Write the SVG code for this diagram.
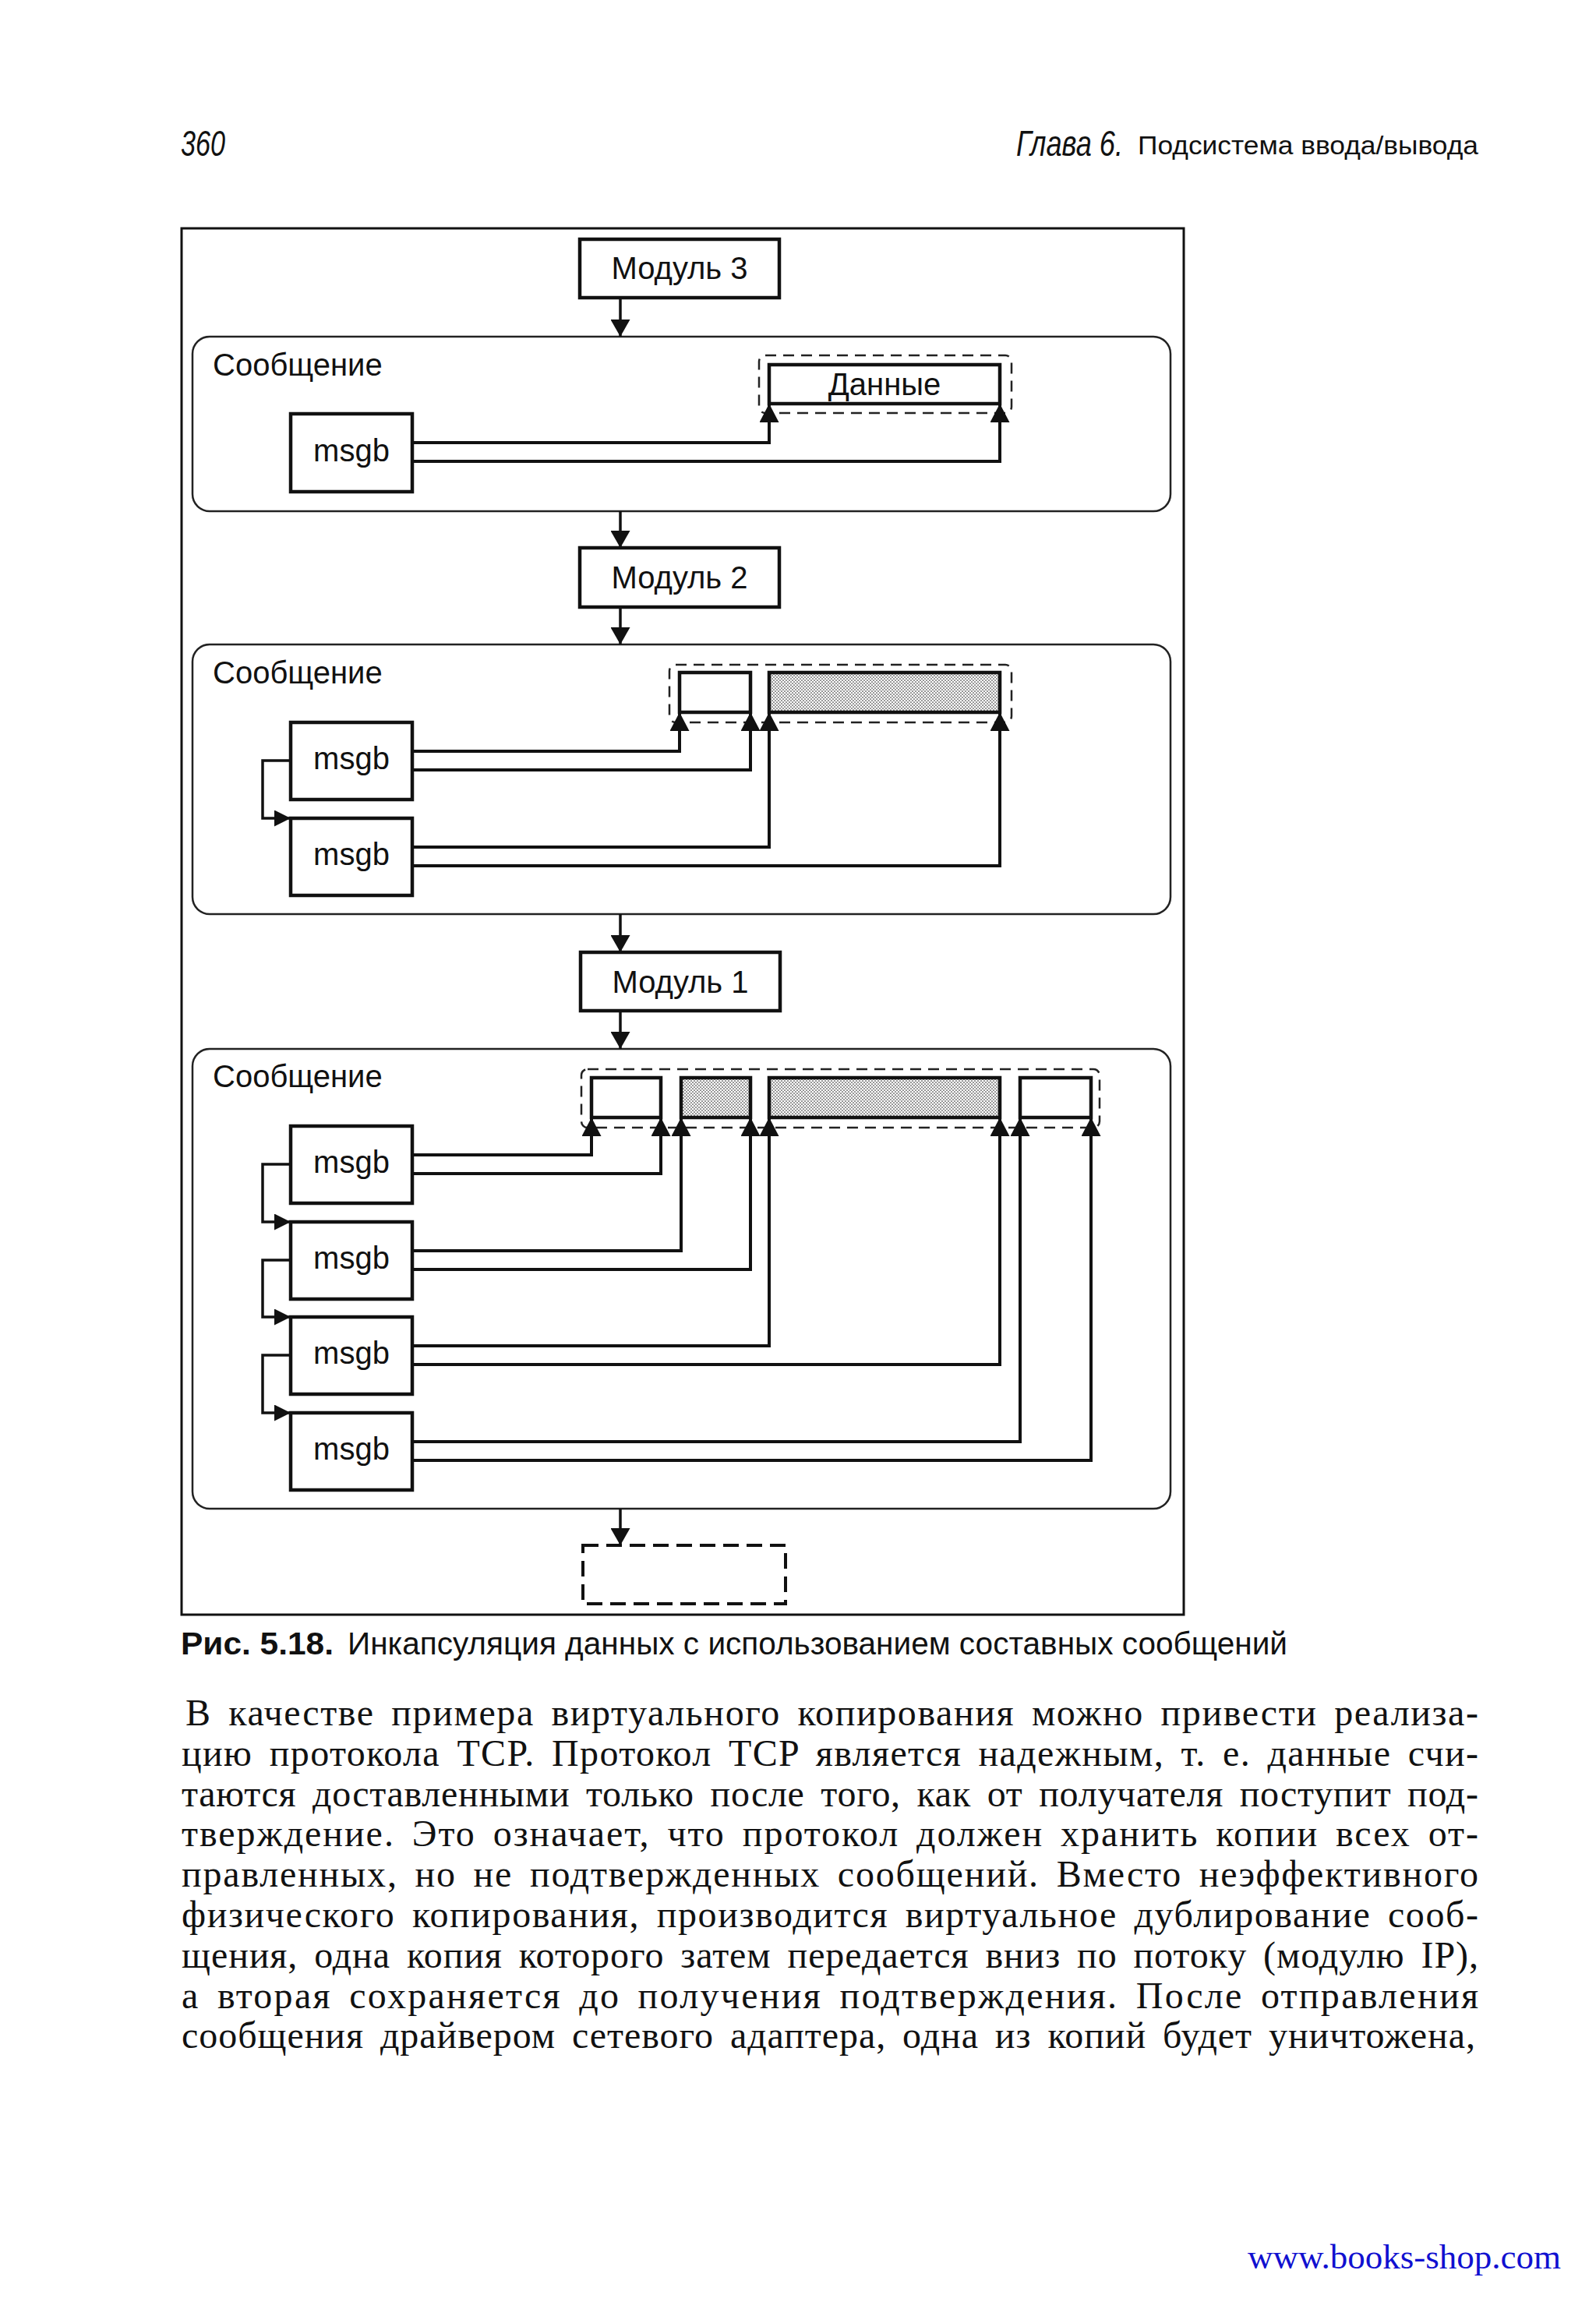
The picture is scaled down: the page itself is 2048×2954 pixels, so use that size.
<svg xmlns="http://www.w3.org/2000/svg" width="2048" height="2954" viewBox="0 0 2048 2954">
<style>
.lbl{font-family:"Liberation Sans",Arial,sans-serif;font-size:40px;fill:#111}
.mid{text-anchor:middle}
.hdr{font-family:"Liberation Sans",Arial,sans-serif;fill:#111}
.body{font-family:"Liberation Serif","Times New Roman",serif;font-size:48px;fill:#111;word-spacing:8px}
.box{fill:#fff;stroke:#111;stroke-width:4.5}
.msg{fill:none;stroke:#222;stroke-width:2.5}
.dash{fill:none;stroke:#222;stroke-width:2.5;stroke-dasharray:14 9}
.shade{fill:url(#dots);stroke:#111;stroke-width:4.5}
.cn{fill:none;stroke:#111;stroke-width:4;marker-end:url(#ah)}
.lk{fill:none;stroke:#111;stroke-width:3.5;marker-end:url(#ahs)}
.dn{fill:none;stroke:#111;stroke-width:3.5;marker-end:url(#ahd)}
</style>
<defs>
<pattern id="dots" width="4" height="4" patternUnits="userSpaceOnUse">
<rect width="4" height="4" fill="#fff"/>
<circle cx="1" cy="1" r="0.85" fill="#333"/>
<circle cx="3" cy="3" r="0.85" fill="#333"/>
</pattern>
<marker id="ah" markerUnits="userSpaceOnUse" markerWidth="24" markerHeight="25" viewBox="0 0 24 25" refX="24" refY="12.5" orient="auto">
<path d="M0,0 L24,12.5 L0,25 z" fill="#111"/>
</marker>
<marker id="ahs" markerUnits="userSpaceOnUse" markerWidth="21" markerHeight="21" viewBox="0 0 21 21" refX="21" refY="10.5" orient="auto">
<path d="M0,0 L21,10.5 L0,21 z" fill="#111"/>
</marker>
<marker id="ahd" markerUnits="userSpaceOnUse" markerWidth="22" markerHeight="25" viewBox="0 0 22 25" refX="22" refY="12.5" orient="auto">
<path d="M0,0 L22,12.5 L0,25 z" fill="#111"/>
</marker>
</defs>
<rect width="2048" height="2954" fill="#fff"/>

<g id="header">
<text class="hdr" x="232" y="200" font-size="46" font-style="italic" textLength="57" lengthAdjust="spacingAndGlyphs">360</text>
<text class="hdr" x="1304" y="200" font-size="46" font-style="italic" textLength="137" lengthAdjust="spacingAndGlyphs">Глава 6.</text>
<text class="hdr" x="1460" y="198" font-size="33" textLength="437" lengthAdjust="spacingAndGlyphs">Подсистема ввода/вывода</text>
</g>

<rect id="frame" x="233" y="293" width="1286" height="1779" fill="none" stroke="#111" stroke-width="3"/>

<g id="module3"><rect class="box" x="744" y="307" width="256" height="75"/><text class="lbl mid" x="872" y="358">Модуль 3</text></g>
<g id="module2"><rect class="box" x="744" y="703" width="256" height="76"/><text class="lbl mid" x="872" y="755">Модуль 2</text></g>
<g id="module1"><rect class="box" x="745" y="1222" width="256" height="75"/><text class="lbl mid" x="873" y="1274">Модуль 1</text></g>

<g id="message1">
<rect class="msg" x="247" y="432" width="1255" height="224" rx="22"/>
<text class="lbl" x="273" y="482">Сообщение</text>
<rect class="dash" x="974" y="456" width="324" height="74" rx="8"/>
<rect class="box" x="987" y="468" width="296" height="50"/>
<text class="lbl mid" x="1135" y="507">Данные</text>
</g>
<g id="msgb1-1"><rect class="box" x="373" y="531" width="156" height="100"/><text class="lbl mid" x="451" y="592">msgb</text></g>

<g id="message2">
<rect class="msg" x="247" y="827" width="1255" height="346" rx="22"/>
<text class="lbl" x="273" y="877">Сообщение</text>
<rect class="dash" x="859" y="853" width="439" height="74" rx="8"/>
<rect class="box" x="872" y="863" width="91" height="51"/>
<rect class="shade" x="987" y="863" width="296" height="51"/>
</g>
<g id="msgb2-1"><rect class="box" x="373" y="927" width="156" height="99"/><text class="lbl mid" x="451" y="987">msgb</text></g>
<g id="msgb2-2"><rect class="box" x="373" y="1050" width="156" height="99"/><text class="lbl mid" x="451" y="1110">msgb</text></g>

<g id="message3">
<rect class="msg" x="247" y="1346" width="1255" height="590" rx="22"/>
<text class="lbl" x="273" y="1395">Сообщение</text>
<rect class="dash" x="746" y="1372" width="665" height="75" rx="8"/>
<rect class="box" x="759" y="1383" width="89" height="51"/>
<rect class="shade" x="874" y="1383" width="89" height="51"/>
<rect class="shade" x="987" y="1383" width="296" height="51"/>
<rect class="box" x="1309" y="1383" width="91" height="51"/>
</g>
<g id="msgb3-1"><rect class="box" x="373" y="1445" width="156" height="99"/><text class="lbl mid" x="451" y="1505">msgb</text></g>
<g id="msgb3-2"><rect class="box" x="373" y="1568" width="156" height="99"/><text class="lbl mid" x="451" y="1628">msgb</text></g>
<g id="msgb3-3"><rect class="box" x="373" y="1690" width="156" height="99"/><text class="lbl mid" x="451" y="1750">msgb</text></g>
<g id="msgb3-4"><rect class="box" x="373" y="1813" width="156" height="99"/><text class="lbl mid" x="451" y="1873">msgb</text></g>

<g id="next"><rect x="748" y="1983" width="260" height="75" fill="none" stroke="#111" stroke-width="4" stroke-dasharray="20 10"/></g>

<g id="connectors">
<path class="dn" d="M796,382 V432"/>
<path class="dn" d="M796,656 V703"/>
<path class="dn" d="M796,779 V827"/>
<path class="dn" d="M796,1173 V1222"/>
<path class="dn" d="M796,1297 V1346"/>
<path class="dn" d="M796,1936 V1983"/>

<path class="cn" d="M529,568 H987 V518"/>
<path class="cn" d="M529,592 H1283 V518"/>

<path class="cn" d="M529,964 H872 V914"/>
<path class="cn" d="M529,988 H963 V914"/>
<path class="cn" d="M529,1087 H987 V914"/>
<path class="cn" d="M529,1111 H1283 V914"/>
<path class="lk" d="M373,976 H337 V1050 H373"/>

<path class="cn" d="M529,1482 H759 V1434"/>
<path class="cn" d="M529,1506 H848 V1434"/>
<path class="cn" d="M529,1605 H874 V1434"/>
<path class="cn" d="M529,1629 H963 V1434"/>
<path class="cn" d="M529,1727 H987 V1434"/>
<path class="cn" d="M529,1751 H1283 V1434"/>
<path class="cn" d="M529,1850 H1309 V1434"/>
<path class="cn" d="M529,1874 H1400 V1434"/>
<path class="lk" d="M373,1494 H337 V1568 H373"/>
<path class="lk" d="M373,1617 H337 V1690 H373"/>
<path class="lk" d="M373,1739 H337 V1813 H373"/>
</g>

<g id="caption">
<text class="hdr" x="232" y="2123" font-size="40" font-weight="bold" textLength="196" lengthAdjust="spacingAndGlyphs">Рис. 5.18.</text>
<text class="hdr" x="446" y="2123" font-size="40" textLength="1206" lengthAdjust="spacingAndGlyphs">Инкапсуляция данных с использованием составных сообщений</text>
</g>

<g id="bodytext">
<text class="body" x="238" y="2214" textLength="1659" lengthAdjust="spacing">В качестве примера виртуального копирования можно привести реализа-</text>
<text class="body" x="233" y="2266" textLength="1664" lengthAdjust="spacing">цию протокола TCP. Протокол TCP является надежным, т. е. данные счи-</text>
<text class="body" x="233" y="2318" textLength="1664" lengthAdjust="spacing">таются доставленными только после того, как от получателя поступит под-</text>
<text class="body" x="233" y="2369" textLength="1664" lengthAdjust="spacing">тверждение. Это означает, что протокол должен хранить копии всех от-</text>
<text class="body" x="233" y="2421" textLength="1664" lengthAdjust="spacing">правленных, но не подтвержденных сообщений. Вместо неэффективного</text>
<text class="body" x="233" y="2473" textLength="1664" lengthAdjust="spacing">физического копирования, производится виртуальное дублирование сооб-</text>
<text class="body" x="233" y="2525" textLength="1664" lengthAdjust="spacing">щения, одна копия которого затем передается вниз по потоку (модулю IP),</text>
<text class="body" x="233" y="2577" textLength="1664" lengthAdjust="spacing">а вторая сохраняется до получения подтверждения. После отправления</text>
<text class="body" x="233" y="2628" textLength="1660" lengthAdjust="spacing">сообщения драйвером сетевого адаптера, одна из копий будет уничтожена,</text>
</g>

<text id="footer" x="2003" y="2911" text-anchor="end" font-family="Liberation Serif, Times New Roman, serif" font-size="45" fill="#1010d0">www.books-shop.com</text>
</svg>
